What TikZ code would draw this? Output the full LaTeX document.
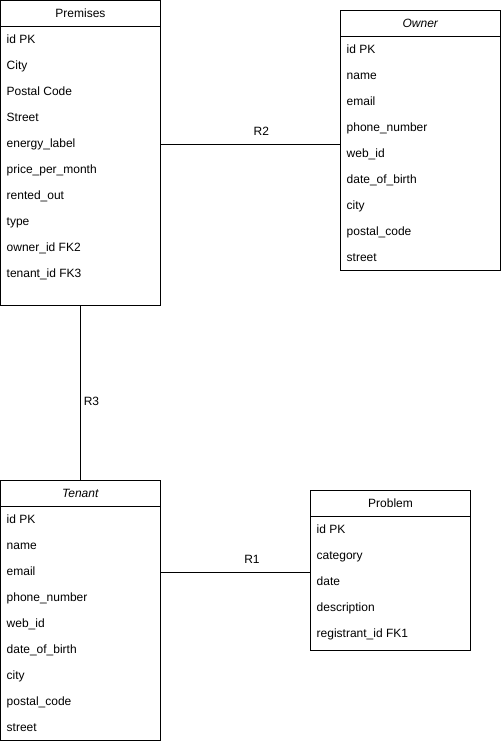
\documentclass[tikz,border=0pt]{standalone}
\usepackage{fontspec}
\setmainfont{Liberation Sans}
\usetikzlibrary{positioning}
\tikzset{
  cabecalho/.style={draw,line width=1pt,minimum width=160pt,minimum height=26pt,anchor=north west,inner sep=0pt,outer sep=0pt},
  corpo/.style={draw,line width=1pt,minimum width=160pt,inner sep=0pt,outer sep=0pt},
  campo/.style={anchor=west,inner sep=0pt,text height=8.6pt,text depth=2.6pt},
  ligacao/.style={draw=black,line width=1pt}
}
\begin{document}
\begin{tikzpicture}[x=1pt,y=-1pt,font=\fontsize{12}{14}\selectfont]
  \useasboundingbox (0,0) rectangle (501,744);

  % Premises
  \node[cabecalho] (PremisesH) at (0.5,0.5) {Premises};
  \node[corpo,minimum height=279pt,below=0pt of PremisesH] (Premises) {};
  \foreach \c [count=\i] in {id PK,City,Postal Code,Street,energy\_label,price\_per\_month,rented\_out,type,owner\_id FK2,tenant\_id FK3}
    \node[campo] (Premises-\i) at (6.5,{0.5+14+26*\i}) {\c};

  % Owner
  \node[cabecalho] (OwnerH) at (340.5,10.5) {\textit{Owner}};
  \node[corpo,minimum height=234pt,below=0pt of OwnerH] (Owner) {};
  \foreach \c [count=\i] in {id PK,name,email,phone\_number,web\_id,date\_of\_birth,city,postal\_code,street}
    \node[campo] (Owner-\i) at (346.5,{10.5+14+26*\i}) {\c};

  % Tenant
  \node[cabecalho] (TenantH) at (0.5,480.5) {\textit{Tenant}};
  \node[corpo,minimum height=234pt,below=0pt of TenantH] (Tenant) {};
  \foreach \c [count=\i] in {id PK,name,email,phone\_number,web\_id,date\_of\_birth,city,postal\_code,street}
    \node[campo] (Tenant-\i) at (6.5,{480.5+14+26*\i}) {\c};

  % Problem
  \node[cabecalho] (ProblemH) at (310.5,490.5) {Problem};
  \node[corpo,minimum height=134pt,below=0pt of ProblemH] (Problem) {};
  \foreach \c [count=\i] in {id PK,category,date,description,registrant\_id FK1}
    \node[campo] (Problem-\i) at (316.5,{490.5+14+26*\i}) {\c};

  % Relacoes
  \draw[ligacao] (Premises.east |- Premises-5) to node[pos=0.56,yshift=13pt] {R2} (Owner.west |- Premises-5);
  \draw[ligacao] (Premises.south) to node[pos=0.55,xshift=11pt] {R3} (TenantH.north);
  \draw[ligacao] (Tenant.east |- Tenant-3) to node[pos=0.61,yshift=13pt] {R1} (Problem.west |- Tenant-3);

\end{tikzpicture}
\end{document}
